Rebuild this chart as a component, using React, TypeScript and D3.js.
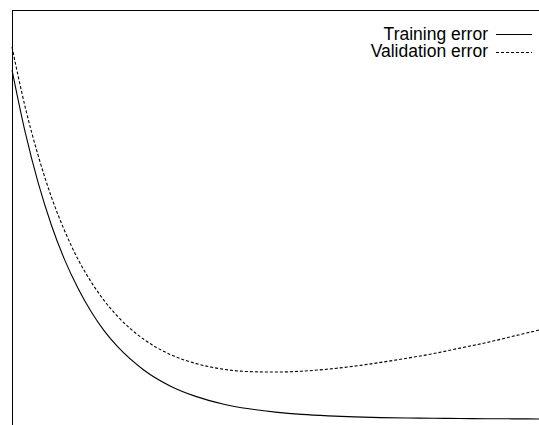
import React from "react";
import * as d3 from "d3";

const epochs = [0, 2.5, 5, 7.5, 10, 12.5, 15, 17.5, 20, 25, 30, 35, 40, 45, 50, 55, 60, 65, 70, 75, 80, 85, 90, 95, 100];
const trainingError = [0.857, 0.709, 0.587, 0.487, 0.405, 0.338, 0.282, 0.236, 0.199, 0.143, 0.105, 0.0795, 0.0621, 0.0505, 0.0426, 0.0371, 0.0336, 0.0312, 0.0295, 0.0286, 0.0279, 0.0273, 0.0269, 0.0266, 0.0262];
const validationError = [0.912, 0.769, 0.652, 0.554, 0.474, 0.407, 0.353, 0.308, 0.271, 0.216, 0.18, 0.158, 0.145, 0.139, 0.138, 0.14, 0.145, 0.152, 0.161, 0.171, 0.182, 0.195, 0.208, 0.223, 0.238];
const legendLabels = ["Training error", "Validation error"];

const W = 539;
const H = 425;

export default function App() {
  const x = d3.scaleLinear().domain([0, 100]).range([12, 539]);
  const y = d3.scaleLinear().domain([0, 1]).range([430, 10]);
  const line = d3
    .line<number>()
    .x((_, i) => x(epochs[i]))
    .y((d) => y(d))
    .curve(d3.curveMonotoneX);

  const font = "'Liberation Sans', Arial, Helvetica, sans-serif";
  return (
    <svg
      width={W}
      height={H}
      style={{ position: "absolute", left: 0, top: 0, background: "#fff" }}
    >
      <rect x={12.5} y={10.5} width={600} height={600} fill="none" stroke="#000" strokeWidth={1} />
      <path d={line(trainingError) || ""} fill="none" stroke="#000" strokeWidth={1.1} />
      <path d={line(validationError) || ""} fill="none" stroke="#000" strokeWidth={1.1} strokeDasharray="3,2" />
      <g fontFamily={font} fontSize={17.5} fill="#000">
        <text x={488} y={39.5} textAnchor="end">{legendLabels[0]}</text>
        <text x={488} y={57} textAnchor="end">{legendLabels[1]}</text>
      </g>
      <line x1={496} x2={532} y1={34.5} y2={34.5} stroke="#000" strokeWidth={1} />
      <line x1={496} x2={532} y1={52.5} y2={52.5} stroke="#000" strokeWidth={1} strokeDasharray="3,2" />
    </svg>
  );
}
